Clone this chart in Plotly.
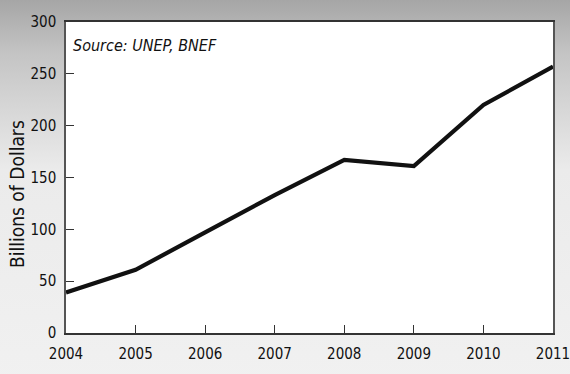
import plotly.graph_objects as go
import base64

years = [2004, 2005, 2006, 2007, 2008, 2009, 2010, 2011]
investment = [39, 61, 97, 133, 167, 161, 220, 257]
y_ticks = [0, 50, 100, 150, 200, 250, 300]
y_title = "Billions of Dollars"
source_text = "Source: UNEP, BNEF"

font_family = "DejaVu Sans Condensed, Liberation Sans Narrow, sans-serif"

svg = ('<svg xmlns="http://www.w3.org/2000/svg" width="10" height="100" preserveAspectRatio="none">'
       '<defs><linearGradient id="g" x1="0" y1="0" x2="0" y2="1">'
       '<stop offset="0" stop-color="#8f8f8f"/>'
       '<stop offset="0.2" stop-color="#c4c4c4"/>'
       '<stop offset="0.45" stop-color="#ebebeb"/>'
       '<stop offset="1" stop-color="#f2f2f2"/>'
       '</linearGradient></defs>'
       '<rect width="10" height="100" fill="url(#g)"/></svg>')
bg_src = "data:image/svg+xml;base64," + base64.b64encode(svg.encode()).decode()

fig = go.Figure()
fig.add_trace(go.Scatter(x=years, y=investment, mode="lines",
                         line=dict(color="#111111", width=4.2),
                         hoverinfo="skip", showlegend=False))

fig.add_layout_image(dict(source=bg_src, xref="paper", yref="paper",
                          x=-0.2, y=1.2, sizex=1.5, sizey=1.5,
                          xanchor="left", yanchor="top",
                          sizing="stretch", layer="below"))

fig.add_shape(type="rect", xref="paper", yref="paper", x0=0, x1=1, y0=0, y1=1,
              fillcolor="white", line=dict(width=0), layer="below")

fig.add_annotation(text="<i>" + source_text + "</i>", xref="paper", yref="paper",
                   x=0.011, y=0.926, xanchor="left", yanchor="middle",
                   showarrow=False,
                   font=dict(family=font_family, size=16, color="#111111"))

fig.add_annotation(text=y_title, xref="paper", yref="paper",
                   x=0, y=0.447, xanchor="center", yanchor="middle",
                   xshift=-49, textangle=-90, showarrow=False,
                   font=dict(family=font_family, size=19, color="#111111"))

fig.update_layout(
    template="none",
    width=570, height=374,
    margin=dict(l=66, r=17, t=22, b=41),
    paper_bgcolor="rgba(0,0,0,0)",
    plot_bgcolor="white",
    font=dict(family=font_family, size=15, color="#111111"),
    xaxis=dict(range=[2004, 2011], tickvals=years, ticks="inside", ticklen=8,
               tickcolor="#333333", tickwidth=1, showgrid=False, zeroline=False,
               showline=True, linecolor="#333333", linewidth=1.5, mirror=True,
               ticklabeloverflow="allow", ticklabelstandoff=6, automargin=False,
               tickfont=dict(size=15)),
    yaxis=dict(range=[0, 300], tickvals=y_ticks, ticks="inside", ticklen=8,
               tickcolor="#333333", tickwidth=1, showgrid=False, zeroline=False,
               showline=True, linecolor="#555555", linewidth=1.5, mirror=True,
               ticklabelstandoff=5, ticklabeloverflow="allow", automargin=False,
               tickfont=dict(size=15)),
)

fig.write_html("out.html")
